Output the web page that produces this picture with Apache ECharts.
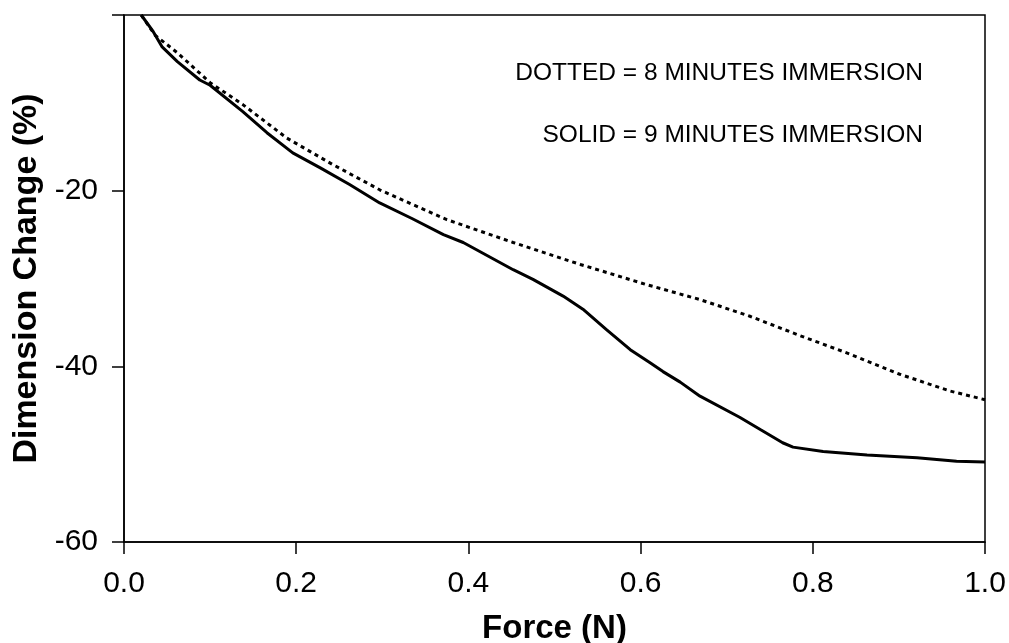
<!DOCTYPE html>
<html lang="en">
<head>
    <meta charset="UTF-8">
    <title>Dimension Change vs Force</title>
    <script type="text/javascript" src="https://cdn.jsdelivr.net/npm/echarts@6/dist/echarts.min.js"></script>
    <style>
        html, body { margin: 0; padding: 0; background: #fff; }
    </style>
</head>
<body>
<div id="chart" style="width: 1009px;height: 643px"></div>
<script type="text/javascript">
    // 9 minutes immersion (solid)
    var solidForce = [0.02, 0.034, 0.044, 0.062, 0.088, 0.10, 0.138, 0.166, 0.196, 0.228, 0.262, 0.297, 0.335, 0.371, 0.394, 0.452, 0.475, 0.51, 0.533, 0.56, 0.588, 0.611, 0.626, 0.646, 0.669, 0.715, 0.739, 0.765, 0.777, 0.812, 0.863, 0.921, 0.967, 1.0];
    var solidChange = [0, -1.9, -3.6, -5.3, -7.4, -8.0, -11.0, -13.4, -15.7, -17.4, -19.3, -21.4, -23.2, -25.0, -25.9, -29.0, -30.1, -32.0, -33.5, -35.8, -38.1, -39.6, -40.6, -41.8, -43.4, -45.8, -47.2, -48.7, -49.2, -49.7, -50.1, -50.4, -50.8, -50.9];
    // 8 minutes immersion (dotted)
    var dottedForce = [0.02, 0.036, 0.062, 0.10, 0.138, 0.189, 0.242, 0.297, 0.375, 0.452, 0.53, 0.607, 0.669, 0.727, 0.785, 0.843, 0.901, 0.959, 1.0];
    var dottedChange = [0, -2.3, -4.3, -7.7, -10.2, -14.0, -17.0, -19.9, -23.3, -25.9, -28.4, -30.7, -32.4, -34.3, -36.5, -38.6, -40.9, -42.8, -43.8];
    var notes = ['DOTTED = 8 MINUTES IMMERSION', 'SOLID = 9 MINUTES IMMERSION'];

    function pairs(xs, ys) {
        var out = [];
        for (var i = 0; i < xs.length; i++) {
            out.push([xs[i], ys[i]]);
        }
        return out;
    }

    var font = 'Liberation Sans, Arial, sans-serif';
    var myChart = echarts.init(document.getElementById('chart'));

    var option = {
        animation: false,
        backgroundColor: '#fff',
        grid: {
            left: 124, right: 24, top: 15, bottom: 101,
            outerBoundsMode: 'none', containLabel: false,
            show: true, borderColor: '#000', borderWidth: 1.5
        },
        xAxis: {
            type: 'value', min: 0, max: 1, interval: 0.2,
            name: 'Force (N)', nameLocation: 'middle', nameGap: 70,
            nameTextStyle: { fontFamily: font, fontWeight: 'bold', fontSize: 33, color: '#000' },
            axisLine: { onZero: false, lineStyle: { color: '#000', width: 1.5 } },
            axisTick: { show: true, length: 12, lineStyle: { color: '#000', width: 1.5 } },
            axisLabel: {
                fontFamily: font, fontSize: 30, color: '#000', margin: 27,
                formatter: function (v) { return v.toFixed(1); }
            },
            splitLine: { show: false }
        },
        yAxis: {
            type: 'value', min: -60, max: 0, interval: 20,
            name: 'Dimension Change (%)', nameLocation: 'middle', nameGap: 80,
            nameTextStyle: { fontFamily: font, fontWeight: 'bold', fontSize: 34, color: '#000' },
            axisLine: { show: true, onZero: false, lineStyle: { color: '#000', width: 1.5 } },
            axisTick: { show: true, length: 12, lineStyle: { color: '#000', width: 1.5 } },
            axisLabel: {
                fontFamily: font, fontSize: 30, color: '#000', margin: 26,
                formatter: function (v) { return v === 0 ? '' : String(v); }
            },
            splitLine: { show: false }
        },
        graphic: [
            {
                type: 'text', right: 86, top: 61,
                style: { text: notes[0], font: '24.5px ' + font, fill: '#000' }
            },
            {
                type: 'text', right: 86, top: 123,
                style: { text: notes[1], font: '24.5px ' + font, fill: '#000' }
            }
        ],
        series: [
            {
                name: '8 minutes', type: 'line', showSymbol: false,
                data: pairs(dottedForce, dottedChange),
                lineStyle: { color: '#000', width: 3, type: [4, 4] }
            },
            {
                name: '9 minutes', type: 'line', showSymbol: false,
                data: pairs(solidForce, solidChange),
                lineStyle: { color: '#000', width: 3 }
            }
        ]
    };

    option && myChart.setOption(option);
</script>
</body>
</html>
